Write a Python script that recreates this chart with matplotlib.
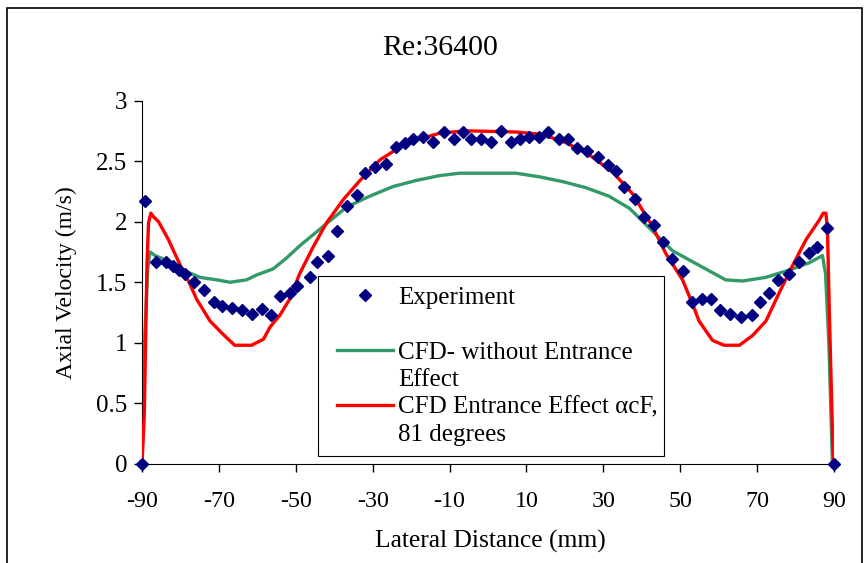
import matplotlib.pyplot as plt
from matplotlib.patches import Rectangle
from matplotlib.lines import Line2D
from matplotlib.legend_handler import HandlerLine2D

# Experimental data (lateral distance mm, axial velocity m/s)
exp_x = [-90, -89.2, -86.3, -83.8, -82.0, -80.3, -78.9, -76.5, -73.8, -71.2,
         -69.2, -66.5, -63.9, -61.3, -58.7, -56.5, -54.1, -51.6, -49.6, -46.4,
         -44.4, -41.7, -39.2, -36.6, -34.0, -31.9, -29.3, -26.6, -24.0, -21.7,
         -19.5, -16.8, -14.4, -11.5, -8.9, -6.5, -4.4, -1.8, 0.8, 3.5,
         5.9, 8.2, 10.6, 13.2, 15.7, 18.4, 20.8, 23.2, 25.8, 28.5,
         31.1, 33.2, 35.5, 38.3, 40.6, 43.2, 45.4, 47.9, 50.6, 53.0,
         55.6, 57.9, 60.4, 62.9, 65.8, 68.6, 70.7, 73.1, 75.5, 78.3,
         80.9, 83.5, 85.7, 88.2, 90]
exp_y = [0, 2.17, 1.67, 1.67, 1.63, 1.60, 1.57, 1.50, 1.44, 1.34,
         1.30, 1.29, 1.27, 1.24, 1.28, 1.23, 1.39, 1.41, 1.47, 1.54,
         1.67, 1.72, 1.92, 2.13, 2.22, 2.40, 2.45, 2.48, 2.62, 2.65,
         2.68, 2.70, 2.66, 2.74, 2.68, 2.74, 2.68, 2.68, 2.66, 2.75,
         2.66, 2.68, 2.70, 2.70, 2.74, 2.68, 2.68, 2.61, 2.58, 2.53,
         2.47, 2.42, 2.29, 2.19, 2.04, 1.97, 1.83, 1.69, 1.59, 1.34,
         1.36, 1.36, 1.27, 1.24, 1.21, 1.23, 1.34, 1.41, 1.52, 1.57,
         1.67, 1.74, 1.79, 1.95, 0]

# CFD without entrance effect
cfd_x = [-90, -89.4, -88.5, -87.9, -86.6, -83.6, -79.3, -74.9, -70.6, -67.1,
         -62.8, -60.2, -55.9, -52.4, -49.0, -42.9, -36.8, -30.8, -24.7, -18.7,
         -12.6, -7.4, -0.5, 7.3, 13.4, 19.5, 25.5, 31.5, 36.8, 41.9,
         48.0, 54.9, 61.8, 66.2, 72.2, 78.3, 83.5, 87.0, 87.8, 88.7, 89.6]
cfd_y = [0, 0.96, 1.62, 1.75, 1.72, 1.68, 1.60, 1.54, 1.52, 1.50,
         1.52, 1.56, 1.61, 1.70, 1.80, 1.96, 2.12, 2.21, 2.29, 2.34,
         2.38, 2.40, 2.40, 2.40, 2.37, 2.33, 2.28, 2.21, 2.11, 1.95,
         1.76, 1.64, 1.52, 1.51, 1.54, 1.60, 1.66, 1.72, 1.57, 0.96, 0]

# CFD with entrance effect (81 degrees)
ent_x = [-90, -89.4, -88.7, -88.3, -87.7, -87.0, -85.7, -83.1, -80.2, -77.6,
         -75.8, -72.3, -68.9, -65.9, -61.5, -58.4, -56.7, -54.1, -51.6, -49.0,
         -45.5, -42.0, -37.7, -33.3, -28.1, -21.2, -12.6, -5.7, 7.3, 14.2,
         20.4, 26.4, 32.4, 37.6, 42.8, 46.2, 50.6, 53.2, 54.9, 58.4,
         61.4, 65.4, 68.8, 72.3, 75.7, 79.1, 82.7, 86.1, 87.2, 87.9,
         88.3, 88.8, 89.7, 90]
ent_y = [0, 0.41, 1.66, 1.99, 2.07, 2.04, 2.00, 1.85, 1.65, 1.49,
         1.36, 1.18, 1.07, 0.98, 0.98, 1.03, 1.13, 1.23, 1.36, 1.57,
         1.79, 1.99, 2.18, 2.34, 2.51, 2.65, 2.73, 2.75, 2.74, 2.72,
         2.65, 2.55, 2.41, 2.23, 1.96, 1.74, 1.52, 1.32, 1.18, 1.02,
         0.98, 0.98, 1.06, 1.18, 1.41, 1.63, 1.85, 2.01, 2.07, 2.07,
         1.93, 1.24, 0.13, 0]

xticks = [-90, -70, -50, -30, -10, 10, 30, 50, 70, 90]
yticks = [0, 0.5, 1, 1.5, 2, 2.5, 3]
ytick_labels = ['0', '0.5', '1', '1.5', '2', '2.5', '3']

plt.rcParams['font.family'] = ['Liberation Serif', 'DejaVu Serif']
plt.rcParams['axes.unicode_minus'] = False

navy = '#000080'
green = '#339966'
red = '#ff0000'

fig = plt.figure(figsize=(8.65, 5.63), dpi=100)
ax = fig.add_axes([142 / 865, 1 - 464 / 563, 692 / 865, 363.5 / 563])

ax.plot(cfd_x, cfd_y, color=green, lw=2.4, zorder=2)
ax.plot(ent_x, ent_y, color=red, lw=2.4, zorder=3)
ax.plot(exp_x, exp_y, ls='none', marker='D', ms=6.3, color=navy, zorder=4, clip_on=False)

ax.set_xlim(-90, 90)
ax.set_ylim(0, 3)
ax.set_xticks(xticks)
ax.set_yticks(yticks)
ax.set_yticklabels(ytick_labels)
ax.tick_params(axis='both', direction='out', length=5.5, width=1, colors='black')
ax.tick_params(axis='x', pad=14, labelsize=17.3)
ax.tick_params(axis='y', pad=5, labelsize=18)
for s in ['top', 'right']:
    ax.spines[s].set_visible(False)

ax.set_xlabel('Lateral Distance (mm)', fontsize=18.4)
ax.xaxis.set_label_coords(0.504, -0.18)
ax.set_ylabel('Axial Velocity (m/s)', fontsize=17)
ax.yaxis.set_label_coords(-0.094, 0.5)
fig.text(440 / 865, 1 - 48 / 563, 'Re:36400', fontsize=21.5, ha='center', va='center')

# legend: one row per text line, like the original box
blank = Line2D([], [], color='none')
handles = [Line2D([], [], ls='none', marker='D', ms=6.5, color=navy), blank,
           Line2D([], [], color=green, lw=2.4), blank,
           Line2D([], [], color=red, lw=2.4), blank]
labels = ['Experiment', '', 'CFD- without Entrance', 'Effect',
          'CFD Entrance Effect \u03b1cF,', '81 degrees']
leg = ax.legend(handles, labels, loc='upper left',
                bbox_to_anchor=(0.254, 0.0165, 0.501, 0.5005), mode='expand',
                borderaxespad=0, fontsize=18, frameon=True, fancybox=False,
                edgecolor='black', framealpha=1, borderpad=0.4, labelspacing=0.2,
                handlelength=2.6, handletextpad=0.2,
                handler_map={Line2D: HandlerLine2D(xpad=0.36)})
leg.get_frame().set_linewidth(0.8)

# outer chart frame
fig.add_artist(Rectangle((7 / 865, -0.1), 855 / 865, 1.1 - 8 / 563,
                         transform=fig.transFigure, fill=False, lw=1.2,
                         edgecolor='black', clip_on=False))

fig.savefig('out.png', dpi=100)
